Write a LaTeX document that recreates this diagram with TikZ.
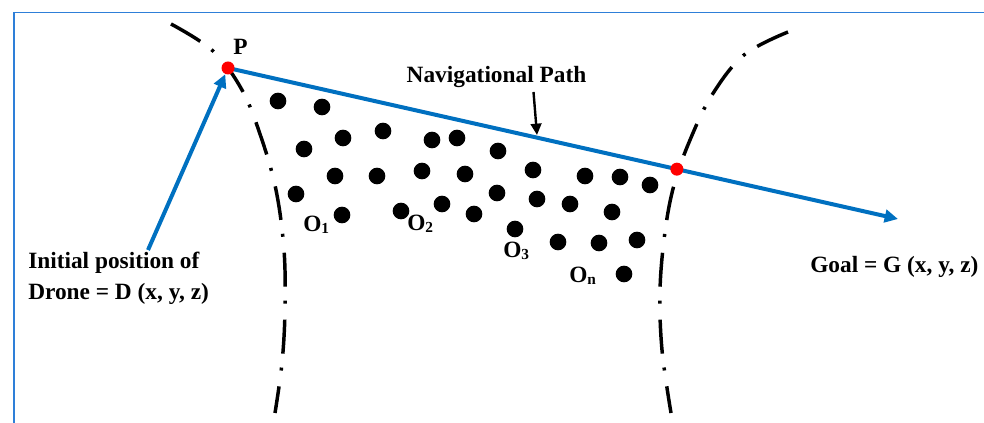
\documentclass[tikz,border=0pt]{standalone}
\usepackage{fontspec}
\setmainfont{Liberation Serif}
\usetikzlibrary{arrows.meta,calc}
\definecolor{pathblue}{HTML}{0070C0}
\definecolor{frameblue}{HTML}{2E7FD8}
\newcommand\osub[2]{#1\raisebox{-1.2pt}{\fontsize{11.5pt}{12pt}\selectfont #2}}
\pgfdeclarelayer{bg}
\pgfsetlayers{bg,main}
\begin{document}
\begin{tikzpicture}[x=0.75pt,y=-0.75pt,
  lbl/.style={font=\bfseries\fontsize{17.5pt}{23.25pt}\selectfont, inner sep=0pt},
  obst/.style={circle, fill=black, minimum size=12.5pt, inner sep=0pt},
  reddot/.style={circle, fill=red, minimum size=9.75pt, inner sep=0pt},
  boundary/.style={line width=2.6pt, dash pattern=on 25.5pt off 10.5pt on 2.25pt off 12pt},
  navpath/.style={draw=pathblue, line width=3pt, -{Triangle[length=10pt,width=9.5pt]}},
  pointer/.style={line width=1.8pt, -{Triangle[length=8.5pt,width=8pt]}}
]
\useasboundingbox (0,0) rectangle (984,423);
% frame
\draw[frameblue, line width=1.1pt] (14,423) -- (14,12.5) -- (984,12.5);

% red points and path endpoints
\node[reddot] (P) at (228,68) {};
\coordinate (G) at (898,219);
\coordinate (D) at (148,250);
\node[reddot] (X) at ($(P)!0.67!(G)$) {};

\begin{pgfonlayer}{bg}
  \draw[boundary] plot[smooth, tension=0.6] coordinates {(171,24) (213,51) (242,90) (261,137) (276,190) (284,250) (285,310) (282,363) (275,413)};
  \draw[boundary] plot[smooth, tension=0.6] coordinates {(788,32) (744,55) (712,95) (690,140) (674,185) (665,232) (660,290) (662,350) (671,413)};
  \draw[navpath] (P.center) -- (G);
  \draw[navpath] (D) -- (P);
\end{pgfonlayer}

% obstacles
\foreach \x/\y [count=\i] in {278/101, 322/107, 343/138, 383/131, 432/140, 457/138, 498/151, 304/149,
  335/176, 377/176, 422/171, 465/174, 533/170, 585/176, 620/177, 650/185,
  296/194, 342/215, 401/211, 442/204, 474/214, 497/193, 537/199, 570/204, 612/212,
  515/229, 558/242, 599/243, 637/240, 624/274}
  \node[obst] (ob\i) at (\x,\y) {};

% labels
\node[lbl, anchor=base west] (plabel) at (233,55) {P};
\node[lbl, anchor=base] (nav) at (496.5,83) {Navigational Path};
\coordinate (navfrom) at (533.5,92);
\coordinate (navtip) at (537,135);
\draw[pointer] (navfrom) -- (navtip);

\node[lbl, anchor=north west, align=left] (init) at (28,252) {Initial position of\\Drone = D (x, y, z)};
\node[lbl, anchor=base west] (goal) at (810,273) {Goal = G (x, y, z)};

\node[lbl, anchor=base west] (O1) at (303,232) {\osub{O}{1}};
\node[lbl, anchor=base west] (O2) at (407,231) {\osub{O}{2}};
\node[lbl, anchor=base west] (O3) at (503,258) {\osub{O}{3}};
\node[lbl, anchor=base west] (On) at (569,283) {\osub{O}{n}};
\end{tikzpicture}
\end{document}
